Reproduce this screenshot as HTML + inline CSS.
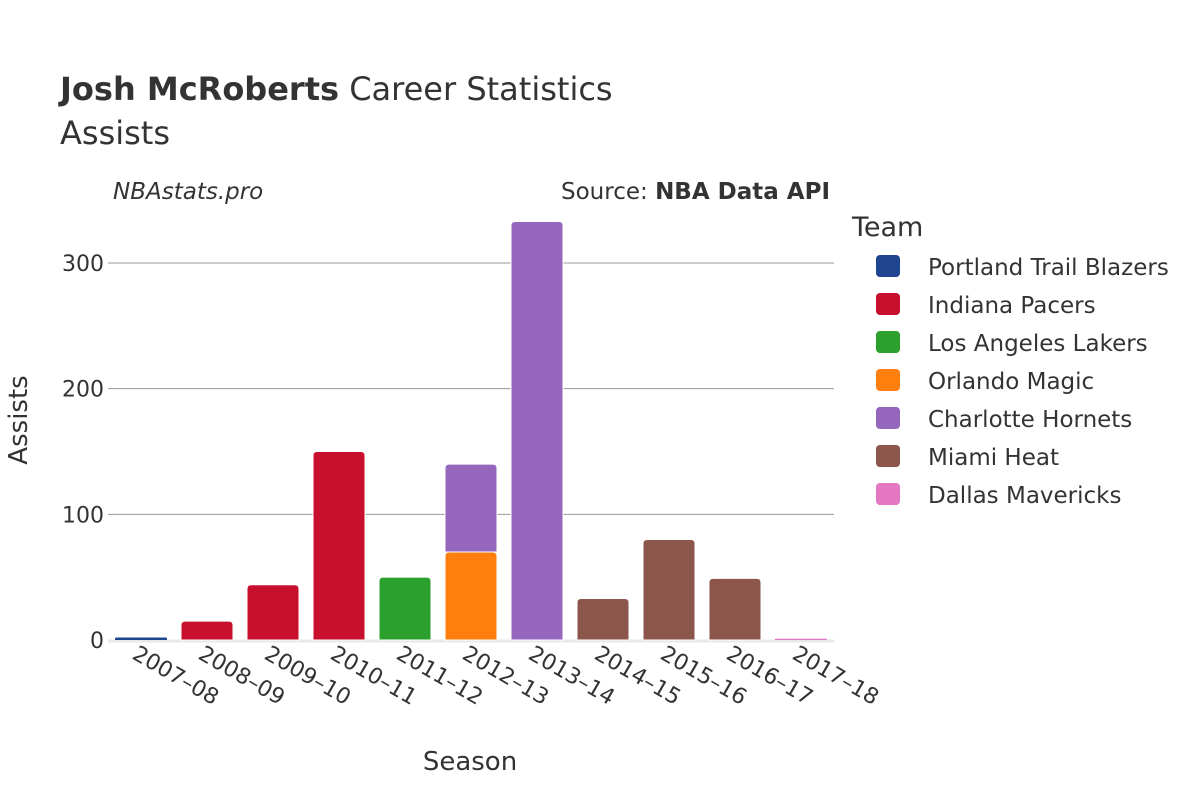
<!DOCTYPE html>
<html><head><meta charset="utf-8"><style>
body{margin:0;background:#fff;font-family:"Liberation Sans","DejaVu Sans",sans-serif;}
svg text{font-family:"DejaVu Sans","Liberation Sans",sans-serif;fill:#333;}
</style></head><body>
<svg id="chart" width="1200" height="800">
<text x="60" y="100" font-size="32"><tspan font-weight="bold">Josh McRoberts</tspan> Career Statistics</text>
<text x="60" y="144" font-size="32">Assists</text>
<text x="113" y="199" font-size="23" font-style="italic">NBAstats.pro</text>
<text x="830" y="199" font-size="23" text-anchor="end">Source: <tspan font-weight="bold">NBA Data API</tspan></text>
<g id="grid"></g><g id="bars"></g><g id="xticks"></g>
<text x="470" y="770" font-size="26" text-anchor="middle">Season</text>
<text transform="translate(27,420) rotate(-90)" font-size="26" text-anchor="middle">Assists</text>
<text x="852" y="236" font-size="27">Team</text>
<g id="legend"></g>
</svg>
<script>
const seasons=["2007–08","2008–09","2009–10","2010–11","2011–12","2012–13","2013–14","2014–15","2015–16","2016–17","2017–18"];
const teams=["Portland Trail Blazers","Indiana Pacers","Los Angeles Lakers","Orlando Magic","Charlotte Hornets","Miami Heat","Dallas Mavericks"];
const colors=["#1f4591","#c8102e","#2ca02c","#ff7f0e","#9467bd","#8c564b","#e377c2"];
const yTicks=[0,100,200,300];
// per-team values by season
const portland=[2,0,0,0,0,0,0,0,0,0,0];
const indiana=[0,15,44,150,0,0,0,0,0,0,0];
const lakers=[0,0,0,0,50,0,0,0,0,0,0];
const orlando=[0,0,0,0,0,70,0,0,0,0,0];
const charlotte=[0,0,0,0,0,70,333,0,0,0,0];
const miami=[0,0,0,0,0,0,0,33,80,49,0];
const dallas=[0,0,0,0,0,0,0,0,0,0,1];
const series=[portland,indiana,lakers,orlando,charlotte,miami,dallas];
const NS="http://www.w3.org/2000/svg";
const x0=108,x1=834,yBase=640,yScale=377/300;
const step=(x1-x0)/seasons.length,bw=52;
const X=i=>x0+step*(i+0.5), Y=v=>yBase-v*yScale;
function mk(t,a,p){const e=document.createElementNS(NS,t);for(const k in a)e.setAttribute(k,a[k]);p.appendChild(e);return e;}
const grid=document.getElementById('grid');
yTicks.forEach(v=>{
  if(v>0){const l=mk('line',{x1:x0,x2:x1,y1:Y(v),y2:Y(v),stroke:'#999','stroke-width':1},grid);
  
  }
  const t=mk('text',{x:104,y:Y(v)+8,'font-size':22,'text-anchor':'end'},grid);t.textContent=v;
  
  
});
const zl=mk('line',{x1:x0,x2:x1,y1:yBase+1,y2:yBase+1,stroke:'#e8e8e8','stroke-width':3},grid);


const bars=document.getElementById('bars');
function barPath(x,yt,yb,w){const r=Math.min(4,(yb-yt)/2);return `M${x},${yb}V${yt+r}Q${x},${yt} ${x+r},${yt}H${x+w-r}Q${x+w},${yt} ${x+w},${yt+r}V${yb}Z`;}
seasons.forEach((s,i)=>{
  let cum=0;
  series.forEach((arr,k)=>{
    const v=arr[i];if(!v)return;
    const yb=Y(cum),yt=Y(cum+v);cum+=v;
    const p=mk('path',{d:barPath(X(i)-bw/2,yt,yb,bw),fill:colors[k],stroke:'#fff','stroke-width':v>3?1:0},bars);
    
    
  });
  const t=mk('text',{transform:`translate(${X(i)-10},${yBase+18}) rotate(30)`,'font-size':22},document.getElementById('xticks'));
  t.textContent=s;
  
  
});
const lg=document.getElementById('legend');
teams.forEach((tm,k)=>{
  const g=mk('g',{},lg);
  
  
  const y=266+k*38;
  mk('rect',{x:876,y:y-11,width:24,height:22,rx:4,fill:colors[k]},g);
  const t=mk('text',{x:928,y:y+9,'font-size':23},g);t.textContent=tm;
});
</script>
</body></html>
